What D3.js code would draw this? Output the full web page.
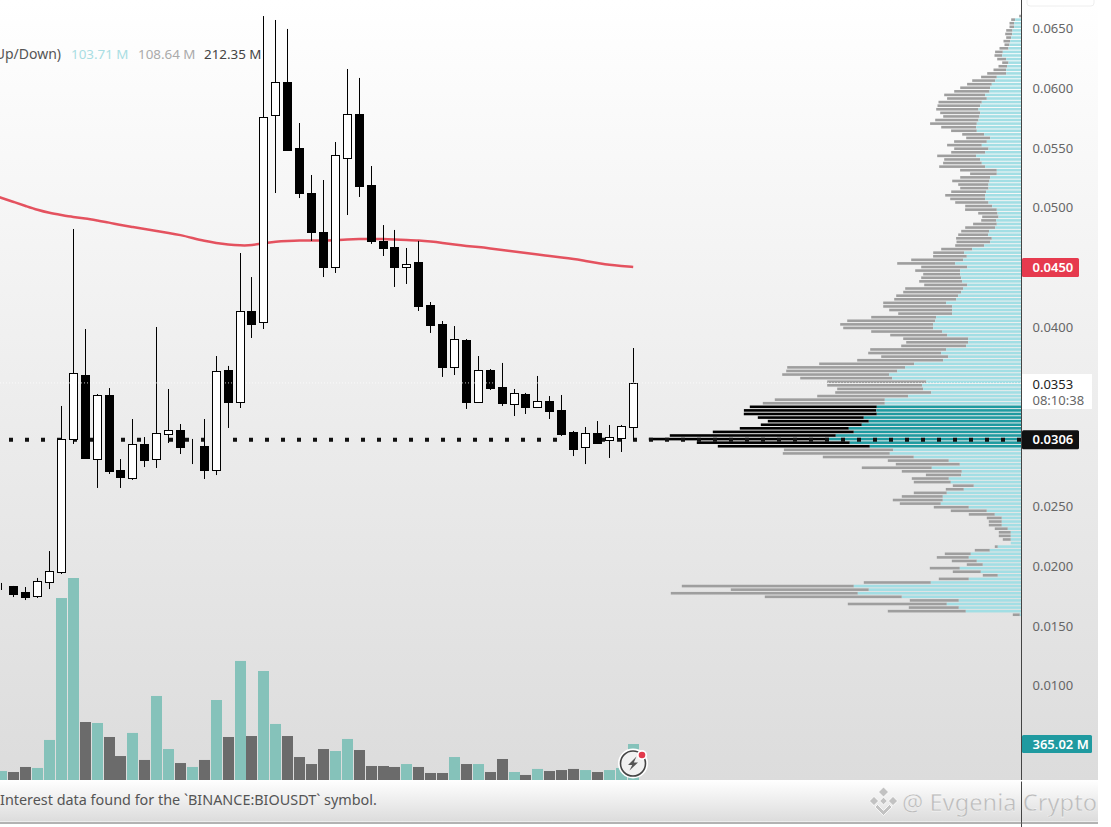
<!DOCTYPE html>
<html><head><meta charset="utf-8">
<script src="https://cdn.jsdelivr.net/npm/d3@7/dist/d3.min.js"></script>
<style>html,body{margin:0;padding:0;background:#fff;overflow:hidden}svg{display:block}text{font-family:"Noto Sans",sans-serif}</style>
</head><body><div id="chart"></div>
<script>
const opens=[.01822,.01831,.01780,.01747,.01864,.01948,.03061,.03596,.02893,.03429,.02801,.02734,.03019,.02893,.03103,.03136,.03002,.03002,.02801,.03638,.03370,.04132,.04040,.05772,.06048,.05496,.05119,.04793,.04500,.05412,.05780,.05186,.04718,.04667,.04500,.04542,.04182,.04023,.03663,.03889,.03370,.03638,.03496,.03354,.03437,.03328,.03379,.03303,.03119,.02994,.03111,.03052,.03069,.03161];
const highs=[.01856,.01831,.01822,.01898,.02123,.03337,.04818,.03981,.03437,.03487,.02893,.03228,.03077,.03998,.03479,.03186,.03061,.03228,.03755,.03672,.04617,.04416,.06600,.06567,.06492,.05705,.05270,.05228,.05546,.06157,.06082,.05345,.04851,.04810,.04659,.04718,.04207,.04048,.04006,.03897,.03755,.03646,.03697,.03479,.03446,.03588,.03420,.03429,.03128,.03161,.03211,.03178,.03178,.03822];
const lows=[.01797,.01738,.01713,.01730,.01805,.01931,.03019,.02902,.02651,.02768,.02651,.02718,.02826,.02818,.03027,.02935,.02851,.02726,.02759,.03153,.03320,.03906,.03981,.05119,.05479,.05077,.04718,.04416,.04450,.04935,.05086,.04693,.04592,.04333,.04358,.04132,.03948,.03580,.03596,.03312,.03370,.03471,.03337,.03253,.03270,.03328,.03228,.03086,.02918,.02851,.03027,.02902,.02952,.03052];
const closes=[.01826,.01764,.01738,.01872,.01956,.03061,.03613,.02902,.03429,.02793,.02743,.03019,.02885,.03111,.03136,.02994,.03002,.02801,.03630,.03370,.04132,.04023,.05755,.06048,.05479,.05119,.04793,.04500,.05437,.05780,.05178,.04718,.04659,.04500,.04525,.04174,.04015,.03663,.03897,.03370,.03638,.03487,.03362,.03446,.03328,.03379,.03295,.03103,.02977,.03111,.03027,.03077,.03169,.03529];
const volumes=[91,81,132,122,406,1845,2048,588,578,436,243,477,203,852,314,172,132,203,811,436,1207,446,1105,568,446,233,162,314,294,416,304,142,142,132,162,132,71,71,233,162,162,81,213,81,51,112,91,101,112,101,81,101,122,365];
const maValues=[.05111,.05077,.05044,.05011,.04977,.04952,.04935,.04918,.04906,.04889,.04872,.04851,.04835,.04818,.04801,.04785,.04768,.04743,.04718,.04701,.04688,.04680,.04680,.04701,.04713,.04718,.04722,.04722,.04722,.04722,.04730,.04734,.04734,.04734,.04730,.04726,.04722,.04713,.04701,.04688,.04676,.04667,.04655,.04642,.04630,.04617,.04605,.04592,.04580,.04567,.04550,.04534,.04517,.04508,.04500];
const profileUp=[0,6.3,7.3,7.3,9,9.3,10.3,11.3,12,13,18.7,19.3,15.3,13,14.3,15.3,15.3,24.7,26.3,29.7,31.3,32,36.3,34.7,39.7,41.3,43,41.3,42,43,44.7,45.3,44.7,37.3,31.3,34.7,39.7,33,36.3,45.3,41.3,39.7,36.3,24.7,24.7,31.3,32,33,33,35.3,36.3,36.3,33,29.3,24.7,24,23,
25.3,24.7,26.3,32.3,33.3,29.7,31.3,37.3,49.3,57.3,54.7,58.3,66.3,54.3,61.3,61.3,60.3,59.3,54.3,58.3,60.3,63.3,65.3,75.3,69.3,69.3,69.3,85.3,86.3,88.3,88.3,79.3,74.3,53.3,53.3,55.3,75.3,80.3,73.3,78.3,107.3,116.3,124.3,132.3,129.3,95.3,99.3,98.3,90.3,113.3,
136.7,136.7,144.7,145.3,144.7,157.7,152.7,159.7,172.7,167.7,185.7,192.7,171.7,151.7,128.3,131.7,107.7,72.7,61.7,89.7,59.7,60.3,72.7,70.7,47.7,57.7,74.7,78.7,78.7,80.7,52.7,34.7,26.7,19.7,19.7,19.7,13.7,10.7,10.7,10.7,10.7,23.7,31.7,50.7,52.7,44.7,38.7,61.7,40.7,23.7,52.7,90.7,167.7,152.7,163.7,119.7,62.7,74.7,62.7,55.7,1.7];
const profileDown=[2.3,4,4.7,4.7,6.3,7,5,6.7,5,9,7.7,7.7,9,6.3,8.7,12.7,19,15.7,23,24.7,30,35.3,41,39.7,43.3,42.7,42.3,40,36.3,43.3,46.7,35,25.7,22,24,32.7,34.7,34.3,34,39,36,38.7,46,36.7,26.7,30,37.3,30.3,28.3,35,40,35,33.3,27,31.7,19.3,16.3,
15,23.7,30,28,30,35.7,33.7,29,31,31,33.7,52,58,46,45,37,40,43,43,58,58,62,62,63,69,63,54,65,88,93,90,71,57,65,62,65,76,73,67,86,95,118,111,107,92,99,95,86,96,91,
110,122,127,132.3,133,106,101,101,109,141,166,180,153,152,109.3,107,91,61,64,70,60,35.3,37,37,21,18,33,41,50,41,35,36,26,15,13,13,13,12,12,8,0,3,15,26,32,25,16,30,28,15,30,67,172,138,187,137,49,99,50,78,7];
const priceTicks=[.065,.06,.055,.05,.04,.025,.02,.015,.01];
const profileTopPrice=.066, profileStep=.0003, valueAreaFirst=109, valueAreaLast=120;
const pocPrice=.0306, lastPrice=.0353, maLast=.045, lastVolume="365.02 M", countdown="08:10:38";
const headerValues=["103.71 M","108.64 M","212.35 M"];

const W=1111,H=827,axisX=1021.5,base=780;
const svg=d3.select("#chart").append("svg").attr("width",W).attr("height",H);
const defs=svg.append("defs");
const g1=defs.append("linearGradient").attr("id","bg").attr("x1",0).attr("x2",0).attr("y1",0).attr("y2",1);
g1.append("stop").attr("offset",0).attr("stop-color","#ffffff");
g1.append("stop").attr("offset",1).attr("stop-color","#dcdcdc");
const g2=defs.append("linearGradient").attr("id","ft").attr("x1",0).attr("x2",0).attr("y1",0).attr("y2",1);
g2.append("stop").attr("offset",0).attr("stop-color","#ffffff");
g2.append("stop").attr("offset",1).attr("stop-color","#dcdcdc");

svg.append("rect").attr("width",1098).attr("height",780).attr("fill","url(#bg)");
svg.append("rect").attr("y",780).attr("width",1098).attr("height",41.5).attr("fill","url(#ft)");
svg.append("rect").attr("x",1027).attr("y",-8).attr("width",67).attr("height",14).attr("rx",3).attr("fill","#fff").attr("stroke","#eee");

const y=d3.scaleLinear().domain([.065,.015]).range([28,625.5]);
const x=d3.scaleLinear().domain([0,53]).range([1.8,633.2]);
const v=d3.scaleLinear().domain([0,2048]).range([base,base-202]);
const pw=d3.scaleLinear().domain([0,400]).range([0,400]);
const cx=i=>Math.floor(x(i))+.5;

// volume
svg.append("g").selectAll("rect").data(volumes).join("rect")
 .attr("x",(d,i)=>cx(i)-5.5).attr("width",11)
 .attr("y",d=>v(d)).attr("height",d=>base-v(d))
 .attr("fill",(d,i)=>closes[i]>=opens[i]?"#85c2ba":"#6b6b6b");

// volume profile
const rows=profileUp.map((u,i)=>({u,d:profileDown[i],p:profileTopPrice-profileStep*i,va:i>=valueAreaFirst&&i<=valueAreaLast}));
const pg=svg.append("g");
pg.selectAll(".dn").data(rows).join("rect").attr("class","dn")
 .attr("x",d=>axisX-pw(d.u)-pw(d.d)).attr("width",d=>pw(d.d))
 .attr("y",d=>y(d.p)-1.3).attr("height",2.6)
 .attr("fill",d=>d.va?"#000":"#9e9e9e");
pg.selectAll(".up").data(rows).join("rect").attr("class","up")
 .attr("x",d=>axisX-pw(d.u)).attr("width",d=>pw(d.u))
 .attr("y",d=>y(d.p)-1.3).attr("height",2.6)
 .attr("fill",d=>d.va?"#1f9aa0":"#a2dee4");

// POC dotted line
svg.append("line").attr("x1",-7).attr("x2",axisX).attr("y1",y(pocPrice)+.7).attr("y2",y(pocPrice)+.7)
 .attr("stroke","#111").attr("stroke-width",4).attr("stroke-dasharray","4 12");

// moving average
svg.append("path").datum(maValues)
 .attr("d",d3.line().x((d,i)=>x(i-1)).y(d=>y(d)).curve(d3.curveBasis))
 .attr("fill","none").attr("stroke","#e2404f").attr("stroke-width",2.5).attr("stroke-opacity",.9);

// candles
const cg=svg.append("g").selectAll("g").data(opens).join("g");
cg.append("line").attr("x1",(d,i)=>cx(i)).attr("x2",(d,i)=>cx(i))
 .attr("y1",(d,i)=>y(highs[i])).attr("y2",(d,i)=>y(lows[i]))
 .attr("stroke","#000").attr("stroke-width",1);
cg.append("rect")
 .attr("x",(d,i)=>cx(i)-4).attr("width",8)
 .attr("y",(d,i)=>Math.round(y(Math.max(opens[i],closes[i])))+.5)
 .attr("height",(d,i)=>Math.max(0,Math.round(y(Math.min(opens[i],closes[i])))-Math.round(y(Math.max(opens[i],closes[i])))))
 .attr("fill",(d,i)=>closes[i]>=opens[i]?"#fff":"#000")
 .attr("stroke","#000").attr("stroke-width",1);

// last price faint line
svg.append("line").attr("x1",0).attr("x2",axisX).attr("y1",y(lastPrice)).attr("y2",y(lastPrice))
 .attr("stroke","#fff").attr("stroke-width",1).attr("stroke-dasharray","1 2").attr("stroke-opacity",.75);

// axis line
svg.append("line").attr("x1",axisX).attr("x2",axisX).attr("y1",0).attr("y2",827).attr("stroke","#444").attr("stroke-width",1);
svg.append("rect").attr("x",axisX-.5).attr("y",780).attr("width",1).attr("height",1.5).attr("fill","#fff");

// price axis
const ax=svg.append("g").attr("transform",`translate(${axisX},0.5)`)
 .call(d3.axisRight(y).tickValues(priceTicks).tickFormat(d3.format(".4f")).tickSize(0).tickPadding(11));
ax.select(".domain").remove();
ax.selectAll("text").attr("fill","#666").style("font-size","13px").style("font-family",'"Noto Sans",sans-serif');

function tag(py,h,w,fill,txt,color,extra){
  svg.append("rect").attr("x",axisX+.5).attr("y",py-h/2).attr("width",w).attr("height",h).attr("rx",1.5).attr("fill",fill);
  svg.append("text").attr("x",1032.5).attr("y",py+4.5).attr("fill",color).attr("font-size",13).attr("font-weight",extra||400).text(txt);
}
tag(y(maLast)+.5,19,57,"#e63a4e",d3.format(".4f")(maLast),"#fff",600);
svg.append("rect").attr("x",axisX+.5).attr("y",374).attr("width",70).attr("height",35).attr("fill","#fff");
const lt=svg.append("text").attr("x",1032.5).attr("y",389).attr("font-size",13);
lt.append("tspan").attr("fill","#222").text(d3.format(".4f")(lastPrice));
lt.append("tspan").attr("x",1032.5).attr("dy",15.5).attr("fill","#666").text(countdown);
tag(y(pocPrice)+.7,19,57,"#111",d3.format(".4f")(pocPrice),"#fff",600);
tag(744,18,70,"#1f9aa0",lastVolume,"#fff",600);

// header
const hcol=["#a9dde3","#aaaaaa","#444444"], hx=[71,138,204];
svg.append("text").attr("x",61).attr("y",59).attr("text-anchor","end").attr("fill","#555").attr("font-size",14).text("Up/Down)");
svg.selectAll(".hv").data(headerValues).join("text").attr("class","hv")
 .attr("x",(d,i)=>hx[i]).attr("y",59).attr("fill",(d,i)=>hcol[i]).attr("font-size",13.4).text(d=>d);

// footer
svg.append("text").attr("x",0).attr("y",805).attr("fill","#555").attr("font-size",14.4).text("Interest data found for the `BINANCE:BIOUSDT` symbol.");
svg.append("line").attr("x1",0).attr("x2",1098).attr("y1",823).attr("y2",823).attr("stroke","#666").attr("stroke-width",1);

// watermark
const wm=svg.append("g").attr("transform","translate(883.5,801)").attr("fill","#c2c2c2").attr("stroke","#fff").attr("stroke-width",.8);
[[0,-9,5],[-9.5,0,4.6],[9.5,0,4.6],[0,0,3.8]].forEach(([a,b,r])=>wm.append("path").attr("d",`M${a} ${b-r}L${a+r} ${b}L${a} ${b+r}L${a-r} ${b}Z`));
wm.append("path").attr("d","M0 14.5L-8.5 6L-6 3.5L0 9.5L6 3.5L8.5 6Z");
svg.append("text").attr("x",902).attr("y",811).attr("fill","#bcbcbc").attr("stroke","#fff").attr("stroke-width",.3).attr("font-size",23.7).text("@ Evgenia Crypto");

// alert icon
const ic=svg.append("g").attr("transform","translate(633,763.5)");
ic.append("circle").attr("r",15).attr("fill","#fff");
ic.append("circle").attr("r",12.5).attr("fill","#f1f1f1").attr("stroke","#444").attr("stroke-width",1.6);
ic.append("path").attr("d","M3.5 -7L-5 1.5L-0.8 1.5L-3.5 7L5 -1L0.8 -1Z").attr("fill","#555");
ic.append("circle").attr("cx",9).attr("cy",-8.5).attr("r",5).attr("fill","#fff");
ic.append("circle").attr("cx",9).attr("cy",-8.5).attr("r",3.3).attr("fill","#e23a4c");
</script></body></html>
